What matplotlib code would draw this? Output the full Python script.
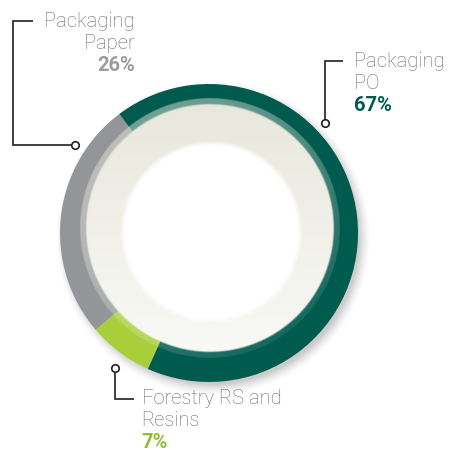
import numpy as np
import matplotlib
matplotlib.use("Agg")
import matplotlib.pyplot as plt

# ---- data -------------------------------------------------------------
categories = ["Packaging\nPaper", "Forestry RS and\nResins", "Packaging\nPO"]
shares = [26, 7, 67]
pct_labels = ["26%", "7%", "67%"]
ring_colors = ["#939598", "#a8cf3a", "#005b4f"]
pct_colors = ["#9a9b9d", "#8fbe35", "#005b4f"]

# ---- layout (pixel coordinates, origin top-left) ---------------------
W = H = 450
label_pos = [(135, 27.3, "right"), (141.5, 403.5, "left"), (354, 67.3, "left")]
line_step = 22.0
leaders = [
    [(33, 21), (13, 21), (13, 145), (75, 145)],
    [(134, 399), (115, 399), (115, 368)],
    [(343, 61), (325, 61), (325, 123)],
]

fig = plt.figure(figsize=(4.5, 4.5), dpi=100)
ax = fig.add_axes([0, 0, 1, 1])


def py(y):
    """Convert a top-down pixel row into a data y value."""
    return H - y


cx, cy, R = 209.0, py(233.0), 149.0       # outer ring
icx, icy, ir = 209.5, py(228.0), 130.0    # raised inner disc
band = 6.0

# soft drop shadow below/right of the ring
xs = np.arange(W) + 0.5
ys = np.arange(H) + 0.5
X, Y = np.meshgrid(xs, ys)
ds = np.hypot(X - (cx + 4), Y - (cy - 5))
shadow = np.zeros((H, W, 4))
shadow[..., 3] = 0.20 * np.clip((R + 9 - ds) / 12, 0, 1) ** 1.5
ax.imshow(shadow, extent=(0, W, 0, H), origin="lower", zorder=0,
          interpolation="bilinear")

# the ring itself
ax.pie(shares, colors=ring_colors, startangle=127, counterclock=True,
       radius=R, center=(cx, cy),
       wedgeprops=dict(width=R - 100, linewidth=0))

# inner disc: beige shading, white centre, translucent lit rim
n = 700
gx = np.linspace(icx - ir, icx + ir, n)
gy = np.linspace(icy - ir, icy + ir, n)
GX, GY = np.meshgrid(gx, gy)
d = np.hypot(GX - icx, GY - icy)
theta = np.degrees(np.arctan2(GY - icy, GX - icx))
t = np.clip((icy + ir - GY) / (2 * ir), 0, 1)
top_col = np.array([232, 231, 220]) / 255
bot_col = np.array([249, 249, 246]) / 255
rgb = top_col * (1 - t)[..., None] + bot_col * t[..., None]
wcx, wcy, wr = 211.0, py(232.0), 89.0
dw = np.hypot(GX - wcx, GY - wcy)
w = np.clip((wr + 2.5 - dw) / 5, 0, 1)
rgb = rgb * (1 - w[..., None]) + w[..., None]
rim = 0.29 + 0.2 * np.cos(np.radians(theta - 120))
inner_r = ir - band
alpha = rim + (1 - rim) * np.clip((inner_r + 0.75 - d) / 1.5, 0, 1)
alpha = alpha * np.clip(ir - d + 0.5, 0, 1)
img = np.dstack([rgb, alpha])
ax.imshow(img, extent=(icx - ir, icx + ir, icy - ir, icy + ir),
          origin="lower", zorder=3, interpolation="bilinear")

# leader lines with open circle ends
for pts in leaders:
    px = [p[0] for p in pts]
    pyv = [py(p[1]) for p in pts]
    ax.plot(px, pyv, color="#231f20", lw=1.2, zorder=5,
            solid_joinstyle="miter", solid_capstyle="butt")
    ax.plot(px[-1], pyv[-1], "o", ms=5.4, mfc="white", mec="#231f20",
            mew=1.2, zorder=6)

# labels
for name, pct, pcol, (lx, ly, ha) in zip(categories, pct_labels,
                                          pct_colors, label_pos):
    lines = name.split("\n")
    for i, line in enumerate(lines):
        ax.text(lx, py(ly + i * line_step), line, ha=ha, va="baseline",
                fontsize=14.5, fontfamily="Roboto", fontweight="light",
                color="#6a6b6d")
    ax.text(lx, py(ly + len(lines) * line_step), pct, ha=ha,
            va="baseline", fontsize=14.5, fontfamily="Roboto",
            fontweight="bold", color=pcol)

ax.set_xlim(0, W)
ax.set_ylim(0, H)
ax.set_aspect("equal")
ax.axis("off")
fig.savefig("out.png", dpi=100, facecolor="white")
